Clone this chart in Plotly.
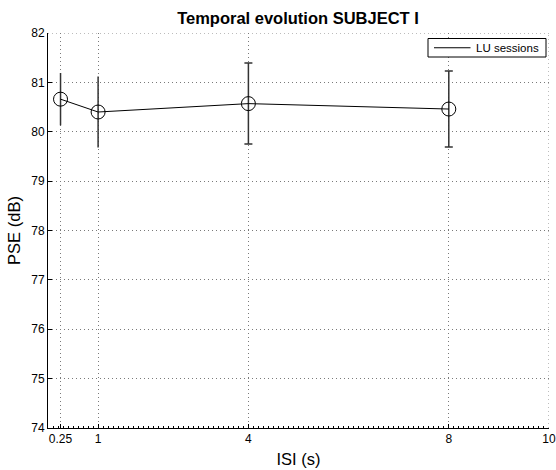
import plotly.graph_objects as go

# ISI values (s) and mean PSE (dB) with error half-widths
isi = [0.25, 1, 4, 8]
pse = [80.66, 80.40, 80.57, 80.46]
err = [0.53, 0.72, 0.82, 0.77]

x_ticks = [0.25, 1, 4, 8, 10]
x_ticklabels = ["0.25", "1", "4", "8", "10"]
y_ticks = [74, 75, 76, 77, 78, 79, 80, 81, 82]
x_range = [0, 10]
y_range = [74, 82]
series_name = "LU sessions"

font_family = "Liberation Sans, Arial, sans-serif"
grid_color = "#7a7a7a"
grid_dash = "1px,3px"

W, H = 556, 470
M = dict(l=48, r=7, t=33, b=42)

fig = go.Figure()

# error bars: the short-ISI ones drawn without caps, the others with caps
fig.add_trace(go.Scatter(
    x=isi[:2], y=pse[:2], mode="markers",
    marker=dict(size=1, color="rgba(0,0,0,0)"),
    error_y=dict(type="data", array=err[:2], color="#333333", thickness=1.5, width=0),
    showlegend=False, hoverinfo="skip",
))
fig.add_trace(go.Scatter(
    x=isi[2:], y=pse[2:], mode="markers",
    marker=dict(size=1, color="rgba(0,0,0,0)"),
    error_y=dict(type="data", array=err[2:], color="#333333", thickness=1.5, width=4),
    showlegend=False, hoverinfo="skip",
))

# mean line with open circle markers
fig.add_trace(go.Scatter(
    x=isi, y=pse, mode="lines",
    line=dict(color="black", width=1),
    name=series_name, showlegend=False,
))
fig.add_trace(go.Scatter(
    x=isi, y=pse, mode="markers",
    marker=dict(symbol="circle-open", size=14, color="black", line=dict(width=1)),
    showlegend=False,
))

# invisible trace that carries the minor-tick axis
fig.add_trace(go.Scatter(
    x=x_range, y=y_range, mode="markers", xaxis="x2",
    marker=dict(size=1, color="rgba(0,0,0,0)"),
    showlegend=False, hoverinfo="skip",
))

# dotted grid lines along the top and right borders
fig.add_shape(type="line", xref="x", yref="y", x0=x_range[0], x1=x_range[1],
              y0=y_range[1], y1=y_range[1],
              line=dict(color=grid_color, width=1, dash=grid_dash), layer="below")
fig.add_shape(type="line", xref="x", yref="y", x0=x_range[1], x1=x_range[1],
              y0=y_range[0], y1=y_range[1],
              line=dict(color=grid_color, width=1, dash=grid_dash), layer="below")

# compact boxed legend in the upper-right corner (paper coordinates)
pw = W - M["l"] - M["r"]
ph = H - M["t"] - M["b"]


def px_x(px):
    return (px - M["l"]) / pw


def px_y(py):
    return 1 - (py - M["t"]) / ph


box_l, box_r, box_t, box_b = 428, 546, 38.5, 57
mid = (box_t + box_b) / 2
fig.add_shape(type="rect", xref="paper", yref="paper",
              x0=px_x(box_l), x1=px_x(box_r), y0=px_y(box_b), y1=px_y(box_t),
              line=dict(color="black", width=1), fillcolor="white", layer="above")
fig.add_shape(type="line", xref="paper", yref="paper",
              x0=px_x(434), x1=px_x(470.5), y0=px_y(mid), y1=px_y(mid),
              line=dict(color="black", width=1), layer="above")
fig.add_annotation(text=series_name, xref="paper", yref="paper",
                   x=px_x(473.5), y=px_y(mid), xanchor="left", yanchor="middle",
                   showarrow=False, font=dict(size=11.5, color="black"))

fig.update_layout(
    width=W, height=H,
    margin=dict(**M, autoexpand=False),
    paper_bgcolor="white", plot_bgcolor="white",
    font=dict(family=font_family, size=12, color="black"),
    title=dict(
        text="<b>Temporal evolution SUBJECT I</b>",
        x=0.536, xanchor="center", y=0.962, yanchor="middle",
        font=dict(size=16.5, family=font_family, color="black"),
    ),
    showlegend=False,
    xaxis=dict(
        range=x_range,
        tickvals=x_ticks, ticktext=x_ticklabels,
        ticks="inside", ticklen=4, tickcolor="black",
        showline=True, linecolor="black", linewidth=1,
        showgrid=True, gridcolor=grid_color, griddash=grid_dash, gridwidth=1,
        zeroline=False, automargin=False,
        title=dict(text="ISI (s)", font=dict(size=16.5), standoff=8),
        tickfont=dict(size=12),
    ),
    xaxis2=dict(
        overlaying="x", anchor="y", range=x_range, dtick=0.1, tick0=0,
        ticks="inside", ticklen=2, tickcolor="black",
        showticklabels=False, showgrid=False, zeroline=False, showline=False,
        side="bottom", automargin=False,
    ),
    yaxis=dict(
        range=y_range,
        tickvals=y_ticks,
        ticks="inside", ticklen=4, tickcolor="black",
        showline=True, linecolor="black", linewidth=1,
        showgrid=True, gridcolor=grid_color, griddash=grid_dash, gridwidth=1,
        zeroline=False, automargin=False,
        title=dict(text="PSE (dB)", font=dict(size=16.5), standoff=6),
        tickfont=dict(size=12),
    ),
)

fig.write_html("out.html")
